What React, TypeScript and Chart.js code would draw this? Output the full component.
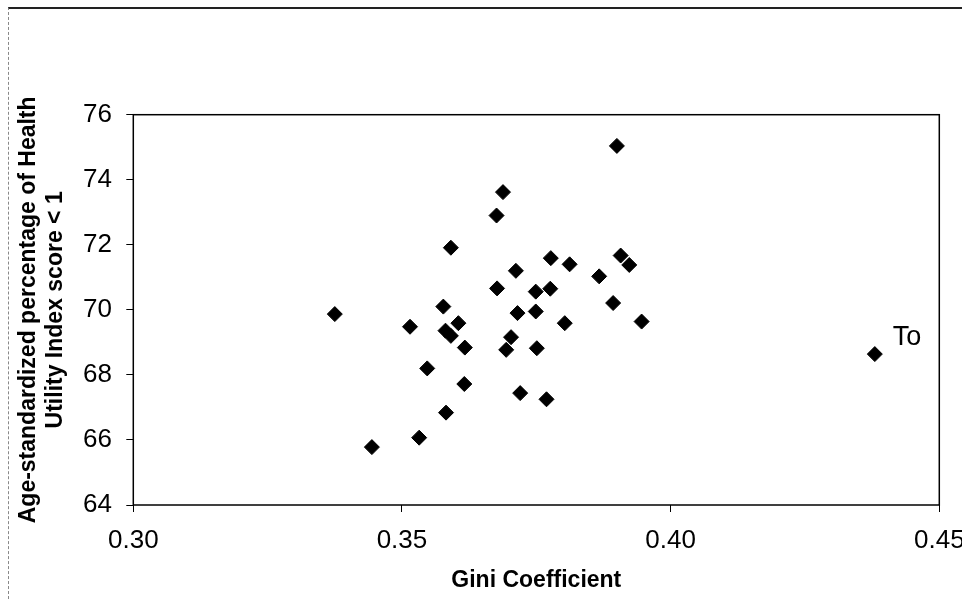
import { useEffect, useRef } from 'react';
import { Chart, registerables } from 'chart.js';

Chart.register(...registerables);

const giniValues = [
  0.39, 0.3688, 0.3676, 0.3591, 0.3777, 0.3812, 0.3907, 0.3923, 0.3712, 0.3867,
  0.3677, 0.3749, 0.3776, 0.3893, 0.3577, 0.3375, 0.3515, 0.3605, 0.3581, 0.3591,
  0.3617, 0.3715, 0.3749, 0.3803, 0.3946, 0.3703, 0.3694, 0.3751, 0.3547, 0.3616,
  0.372, 0.3769, 0.3582, 0.3532, 0.3444, 0.438,
];
const healthValues = [
  75.04, 73.62, 72.9, 71.91, 71.59, 71.4, 71.67, 71.38, 71.2, 71.03,
  70.66, 70.56, 70.65, 70.21, 70.1, 69.87, 69.48, 69.59, 69.36, 69.2,
  68.84, 69.9, 69.95, 69.59, 69.64, 69.16, 68.77, 68.82, 68.2, 67.72,
  67.44, 67.25, 66.84, 66.07, 65.78, 68.64,
];
const pointLabels = [
  '', '', '', '', '', '', '', '', '', '',
  '', '', '', '', '', '', '', '', '', '',
  '', '', '', '', '', '', '', '', '', '',
  '', '', '', '', '', 'To',
];
const xTicks = [0.3, 0.35, 0.4, 0.45];
const yTicks = [64, 66, 68, 70, 72, 74, 76];
const xTitle = 'Gini Coefficient';
const yTitle = ['Age-standardized percentage of Health', 'Utility Index score < 1'];

const FONT = '"Liberation Sans", Arial, sans-serif';

const annotPlugin = {
  id: 'annot',
  beforeDatasetsDraw(chart: any) {
    const { ctx, chartArea: a } = chart;
    ctx.save();
    ctx.strokeStyle = '#000';
    ctx.lineWidth = 1.5;
    ctx.strokeRect(a.left, a.top, a.right - a.left, a.bottom - a.top);
    ctx.restore();
  },
  afterDatasetsDraw(chart: any) {
    const { ctx } = chart;
    const meta = chart.getDatasetMeta(0);
    ctx.save();
    ctx.font = `27px ${FONT}`;
    ctx.fillStyle = '#000';
    ctx.textBaseline = 'alphabetic';
    ctx.textAlign = 'left';
    pointLabels.forEach((lab, i) => {
      if (!lab) return;
      const el = meta.data[i];
      ctx.fillText(lab, el.x + 18, el.y - 9);
    });
    ctx.restore();
  },
};

export default function App() {
  const ref = useRef<HTMLCanvasElement | null>(null);

  useEffect(() => {
    if (!ref.current) return;
    const chart = new Chart(ref.current, {
      type: 'scatter',
      data: {
        datasets: [
          {
            data: giniValues.map((x, i) => ({ x, y: healthValues[i] })),
            pointStyle: 'rectRot',
            pointRadius: 7.5,
            pointHoverRadius: 7.5,
            backgroundColor: '#000',
            borderColor: '#000',
            borderWidth: 1,
          },
        ],
      },
      options: {
        animation: false,
        responsive: false,
        events: [],
        layout: { padding: { left: 0, top: 114.7, right: 60.7, bottom: 0 } },
        plugins: { legend: { display: false }, tooltip: { enabled: false } },
        scales: {
          x: {
            type: 'linear',
            min: 0.3,
            max: 0.45,
            afterBuildTicks: (s: any) => {
              s.ticks = xTicks.map((v) => ({ value: v }));
            },
            afterFit: (s: any) => {
              s.height = 96;
            },
            border: { display: false },
            grid: { display: true, drawOnChartArea: false, drawTicks: true, tickLength: 7, color: '#000', lineWidth: 1 },
            ticks: {
              color: '#000',
              padding: 13,
              font: { family: FONT, size: 26 },
              callback: (v: any) => Number(v).toFixed(2),
            },
            title: {
              display: true,
              text: xTitle,
              color: '#000',
              font: { family: FONT, size: 23, weight: 'bold', lineHeight: 1.17 },
              padding: { top: 0, bottom: 6.5 },
            },
          },
          y: {
            type: 'linear',
            min: 64,
            max: 76,
            afterBuildTicks: (s: any) => {
              s.ticks = yTicks.map((v) => ({ value: v }));
            },
            afterFit: (s: any) => {
              s.width = 133.3;
            },
            border: { display: false },
            grid: { display: true, drawOnChartArea: false, drawTicks: true, tickLength: 7, color: '#000', lineWidth: 1 },
            ticks: {
              color: '#000',
              padding: 14.3,
              font: { family: FONT, size: 26 },
              callback: (v: any) => String(v),
            },
            title: {
              display: true,
              text: yTitle,
              color: '#000',
              font: { family: FONT, size: 23, weight: 'bold', lineHeight: 1.17 },
              padding: { top: 15.5, bottom: 0 },
            },
          },
        },
      },
      plugins: [annotPlugin],
    });
    return () => chart.destroy();
  }, []);

  return (
    <div style={{ position: 'absolute', left: 0, top: 0, width: 962, height: 601, overflow: 'hidden', background: '#fff' }}>
      <canvas ref={ref} width={1000} height={601} style={{ display: 'block' }} />
      <div
        style={{
          position: 'absolute',
          left: 8,
          top: 7,
          width: 960,
          height: 600,
          borderTop: '2px solid #222',
          borderLeft: '1px dashed #888',
          pointerEvents: 'none',
        }}
      />
    </div>
  );
}
